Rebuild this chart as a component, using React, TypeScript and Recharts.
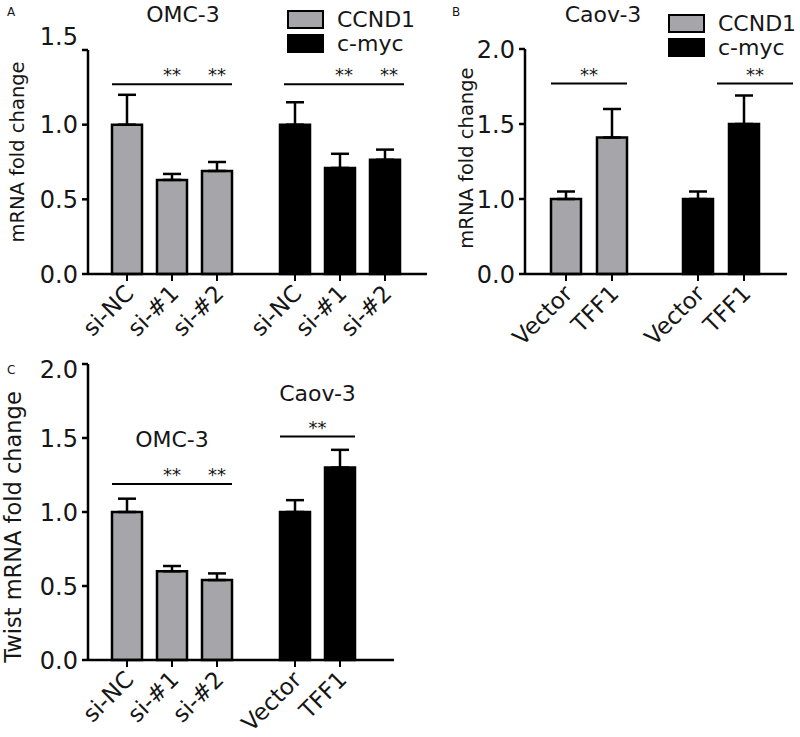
import React from 'react';
import { BarChart, Bar, XAxis, YAxis, ErrorBar, LabelList, Cell } from 'recharts';

const FONT = '"DejaVu Sans", "Liberation Sans", Arial, sans-serif';
const GRAY = '#a6a6aa';
const BLACK = '#000000';
const INK = '#161616';
const BAR_SIZE = 30;

// ---------- Panel A data ----------
const titleA = 'OMC-3';
const conditionsA = ['si-NC', 'si-#1', 'si-#2'];
const genesA = ['CCND1', 'c-myc'];
const ccnd1A = [1.0, 0.63, 0.69];
const ccnd1ErrA = [0.2, 0.04, 0.06];
const cmycA = [1.0, 0.71, 0.765];
const cmycErrA = [0.15, 0.095, 0.068];
const sigA = [1.27, 1.27];
const yTicksA = [0, 0.5, 1.0, 1.5];
const yTickLabelsA = ['0.0', '0.5', '1.0', '1.5'];

// ---------- Panel B data ----------
const titleB = 'Caov-3';
const conditionsB = ['Vector', 'TFF1'];
const genesB = ['CCND1', 'c-myc'];
const ccnd1B = [1.0, 1.41];
const ccnd1ErrB = [0.05, 0.19];
const cmycB = [1.0, 1.5];
const cmycErrB = [0.05, 0.19];
const sigB = [1.77, 1.77];
const yTicksB = [0.5, 1.0, 1.5, 2.0];
const yTickLabelsB = ['0.0', '1.0', '1.5', '2.0'];

// ---------- Panel C data ----------
const cellLinesC = ['OMC-3', 'Caov-3'];
const conditionsOMC = ['si-NC', 'si-#1', 'si-#2'];
const twistOMC = [1.0, 0.6, 0.54];
const twistErrOMC = [0.09, 0.035, 0.045];
const conditionsCaov = ['Vector', 'TFF1'];
const twistCaov = [1.0, 1.3];
const twistErrCaov = [0.08, 0.12];
const sigC = [1.19, 1.51];
const titleLevelC = [1.44, 1.75];
const yTicksC = [0, 0.5, 1.0, 1.5, 2.0];
const yTickLabelsC = ['0.0', '0.5', '1.0', '1.5', '2.0'];

type Group = {
  name: string;
  color: string;
  labels: string[];
  values: number[];
  errors: number[];
  sig: number;
  stars: number[] | 'center';
  shift: number;
  title?: string;
  titleLevel?: number;
};

const buildRows = (groups: Group[], nSlots: number) =>
  groups.map((g) => {
    const row: any = { ...g, n: g.values.length };
    for (let s = 0; s < nSlots; s++) {
      row['v' + s] = s < g.values.length ? g.values[s] : null;
      row['e' + s] = s < g.errors.length ? g.errors[s] : null;
    }
    return row;
  });

const rowsA = buildRows(
  [
    { name: genesA[0], color: GRAY, labels: conditionsA, values: ccnd1A, errors: ccnd1ErrA, sig: sigA[0], stars: [1, 2], shift: 0 },
    { name: genesA[1], color: BLACK, labels: conditionsA, values: cmycA, errors: cmycErrA, sig: sigA[1], stars: [1, 2], shift: 4 },
  ],
  3
);

const rowsB = buildRows(
  [
    { name: genesB[0], color: GRAY, labels: conditionsB, values: ccnd1B, errors: ccnd1ErrB, sig: sigB[0], stars: 'center', shift: 0 },
    { name: genesB[1], color: BLACK, labels: conditionsB, values: cmycB, errors: cmycErrB, sig: sigB[1], stars: 'center', shift: 34 },
  ],
  2
);

const rowsC = buildRows(
  [
    { name: cellLinesC[0], color: GRAY, labels: conditionsOMC, values: twistOMC, errors: twistErrOMC, sig: sigC[0], stars: [1, 2], shift: 0, title: cellLinesC[0], titleLevel: titleLevelC[0] },
    { name: cellLinesC[1], color: BLACK, labels: conditionsCaov, values: twistCaov, errors: twistErrCaov, sig: sigC[1], stars: 'center', shift: 0, title: cellLinesC[1], titleLevel: titleLevelC[1] },
  ],
  3
);

const makeYTick = (ticks: number[], labels: string[], topShift: number) => (props: any) => {
  const { x, y, payload } = props;
  const v = payload?.value;
  const idx = ticks.indexOf(v);
  const text = idx >= 0 ? labels[idx] : String(v);
  const isTop = v === ticks[ticks.length - 1];
  return (
    <text x={x} y={y + (isTop ? -topShift : 0)} dy="0.36em" textAnchor="end" fontSize={24} fill={INK} fontFamily={FONT}>
      {text}
    </text>
  );
};

const slotContent = (rows: any[], s: number, base: number, gap: number) => (props: any) => {
  const vb = props.viewBox || {};
  const x = Number(vb.x ?? props.x);
  const y = Number(vb.y ?? props.y);
  const w = Number(vb.width ?? props.width);
  const h = Number(vb.height ?? props.height);
  const row = rows.find((r) => r.name === props.value) ?? rows[props.index];
  if (!row || row['v' + s] == null || !isFinite(x) || !isFinite(y) || !isFinite(h)) return null;
  const cx = x + w / 2;
  const bottom = y + h;
  const lx = cx + 8;
  const ly = bottom + 21;
  const parts: any[] = [
    <line key="tick" x1={cx} x2={cx} y1={bottom} y2={bottom + 7} stroke={BLACK} strokeWidth={2} />,
    <text key="lab" x={lx} y={ly} transform={`rotate(-45 ${lx} ${ly})`} textAnchor="end" fontSize={23} fill={INK} fontFamily={FONT}>
      {row.labels[s]}
    </text>,
  ];
  if (s === 0) {
    const ppu = h / (row.v0 - base);
    const yOf = (V: number) => bottom - (V - base) * ppu;
    const x0 = x + row.shift;
    const x1 = x + row.n * w + (row.n - 1) * gap + row.shift;
    const ys = yOf(row.sig);
    parts.push(<line key="sig" x1={x0} x2={x1} y1={ys} y2={ys} stroke={BLACK} strokeWidth={2} />);
    const starXs: number[] =
      row.stars === 'center' ? [(x0 + x1) / 2] : row.stars.map((k: number) => x + w / 2 + k * (w + gap) + row.shift);
    starXs.forEach((sx, i) =>
      parts.push(
        <text key={'st' + i} x={sx} y={ys - 3} textAnchor="middle" fontSize={18} fill={INK} fontFamily={FONT}>
          **
        </text>
      )
    );
    if (row.title) {
      parts.push(
        <text key="title" x={(x0 + x1) / 2} y={yOf(row.titleLevel)} textAnchor="middle" fontSize={22} fill={INK} fontFamily={FONT}>
          {row.title}
        </text>
      );
    }
  }
  return <g>{parts}</g>;
};

type PanelProps = {
  rows: any[];
  nSlots: number;
  width: number;
  height: number;
  margin: { top: number; right: number; left: number; bottom: number };
  domain: [number, number];
  ticks: number[];
  tickLabels: string[];
  base: number;
  gap: number;
  padding: { left: number; right: number };
  topShift: number;
};

function Panel(p: PanelProps) {
  return (
    <BarChart width={p.width} height={p.height} data={p.rows} margin={p.margin} barGap={p.gap} barSize={BAR_SIZE}>
      <XAxis
        dataKey="name"
        type="category"
        height={30}
        tick={false}
        tickLine={false}
        axisLine={{ stroke: BLACK, strokeWidth: 2.5 }}
        padding={p.padding}
      />
      <YAxis
        type="number"
        domain={p.domain}
        ticks={p.ticks}
        interval={0}
        width={30}
        tickSize={6}
        tickMargin={4}
        axisLine={{ stroke: BLACK, strokeWidth: 2.5 }}
        tickLine={{ stroke: BLACK, strokeWidth: 2.5 }}
        tick={makeYTick(p.ticks, p.tickLabels, p.topShift)}
      />
      {Array.from({ length: p.nSlots }).map((_, s) => (
        <Bar key={s} dataKey={'v' + s} isAnimationActive={false} stroke={BLACK} strokeWidth={2.5}>
          {p.rows.map((r, i) => (
            <Cell key={i} fill={r.color} />
          ))}
          <ErrorBar
            dataKey={(d: any) => (d['e' + s] == null ? undefined : [0, d['e' + s]])}
            width={9}
            strokeWidth={2.5}
            stroke={BLACK}
            direction="y"
          />
          <LabelList dataKey="name" content={slotContent(p.rows, s, p.base, p.gap)} />
        </Bar>
      ))}
    </BarChart>
  );
}

function Legend2({ x, y, names, gapY }: { x: number; y: number; names: string[]; gapY: number }) {
  const colors = [GRAY, BLACK];
  return (
    <g>
      {names.map((n, i) => (
        <g key={n}>
          <rect x={x} y={y + i * gapY} width={35} height={17} fill={colors[i]} stroke={BLACK} strokeWidth={2} />
          <text x={x + 49} y={y + i * gapY + 16} fontSize={22} fill={INK} fontFamily={FONT}>
            {n}
          </text>
        </g>
      ))}
    </g>
  );
}

export default function App() {
  return (
    <div style={{ position: 'absolute', left: 0, top: 0, width: 800, height: 737, background: '#fff', fontFamily: FONT }}>
      <div style={{ position: 'absolute', left: 0, top: 0 }}>
        <Panel
          rows={rowsA}
          nSlots={3}
          width={430}
          height={370}
          margin={{ top: 50, right: 3, left: 58, bottom: 66 }}
          domain={[0, 1.5]}
          ticks={yTicksA}
          tickLabels={yTickLabelsA}
          base={0}
          gap={15}
          padding={{ left: 0, right: 3 }}
          topShift={14}
        />
      </div>
      <div style={{ position: 'absolute', left: 410, top: 0 }}>
        <Panel
          rows={rowsB}
          nSlots={2}
          width={390}
          height={370}
          margin={{ top: 49, right: 13, left: 85, bottom: 66 }}
          domain={[0.5, 2.0]}
          ticks={yTicksB}
          tickLabels={yTickLabelsB}
          base={0.5}
          gap={16}
          padding={{ left: -2, right: 0 }}
          topShift={0}
        />
      </div>
      <div style={{ position: 'absolute', left: 0, top: 350 }}>
        <Panel
          rows={rowsC}
          nSlots={3}
          width={430}
          height={387}
          margin={{ top: 14, right: 36, left: 58, bottom: 47 }}
          domain={[0, 2.0]}
          ticks={yTicksC}
          tickLabels={yTickLabelsC}
          base={0}
          gap={15}
          padding={{ left: 0, right: -30 }}
          topShift={-5}
        />
      </div>
      <svg width={800} height={737} style={{ position: 'absolute', left: 0, top: 0, pointerEvents: 'none' }}>
        <text x={7} y={16} fontSize={12} fill={INK} fontFamily={FONT}>A</text>
        <text x={452} y={16} fontSize={12} fill={INK} fontFamily={FONT}>B</text>
        <text x={7} y={374} fontSize={12} fill={INK} fontFamily={FONT}>C</text>
        <text x={183} y={22} textAnchor="middle" fontSize={22} fill={INK} fontFamily={FONT}>{titleA}</text>
        <text x={603} y={22} textAnchor="middle" fontSize={22} fill={INK} fontFamily={FONT}>{titleB}</text>
        <Legend2 x={288} y={11} names={genesA} gapY={24} />
        <Legend2 x={669} y={15} names={genesB} gapY={24} />
        <text x={24} y={152} transform="rotate(-90 24 152)" textAnchor="middle" fontSize={19.5} fill={INK} fontFamily={FONT}>
          mRNA fold change
        </text>
        <text x={473} y={158} transform="rotate(-90 473 158)" textAnchor="middle" fontSize={19.5} fill={INK} fontFamily={FONT}>
          mRNA fold change
        </text>
        <text x={21} y={527} transform="rotate(-90 21 527)" textAnchor="middle" fontSize={22.5} fill={INK} fontFamily={FONT}>
          Twist mRNA fold change
        </text>
      </svg>
    </div>
  );
}
